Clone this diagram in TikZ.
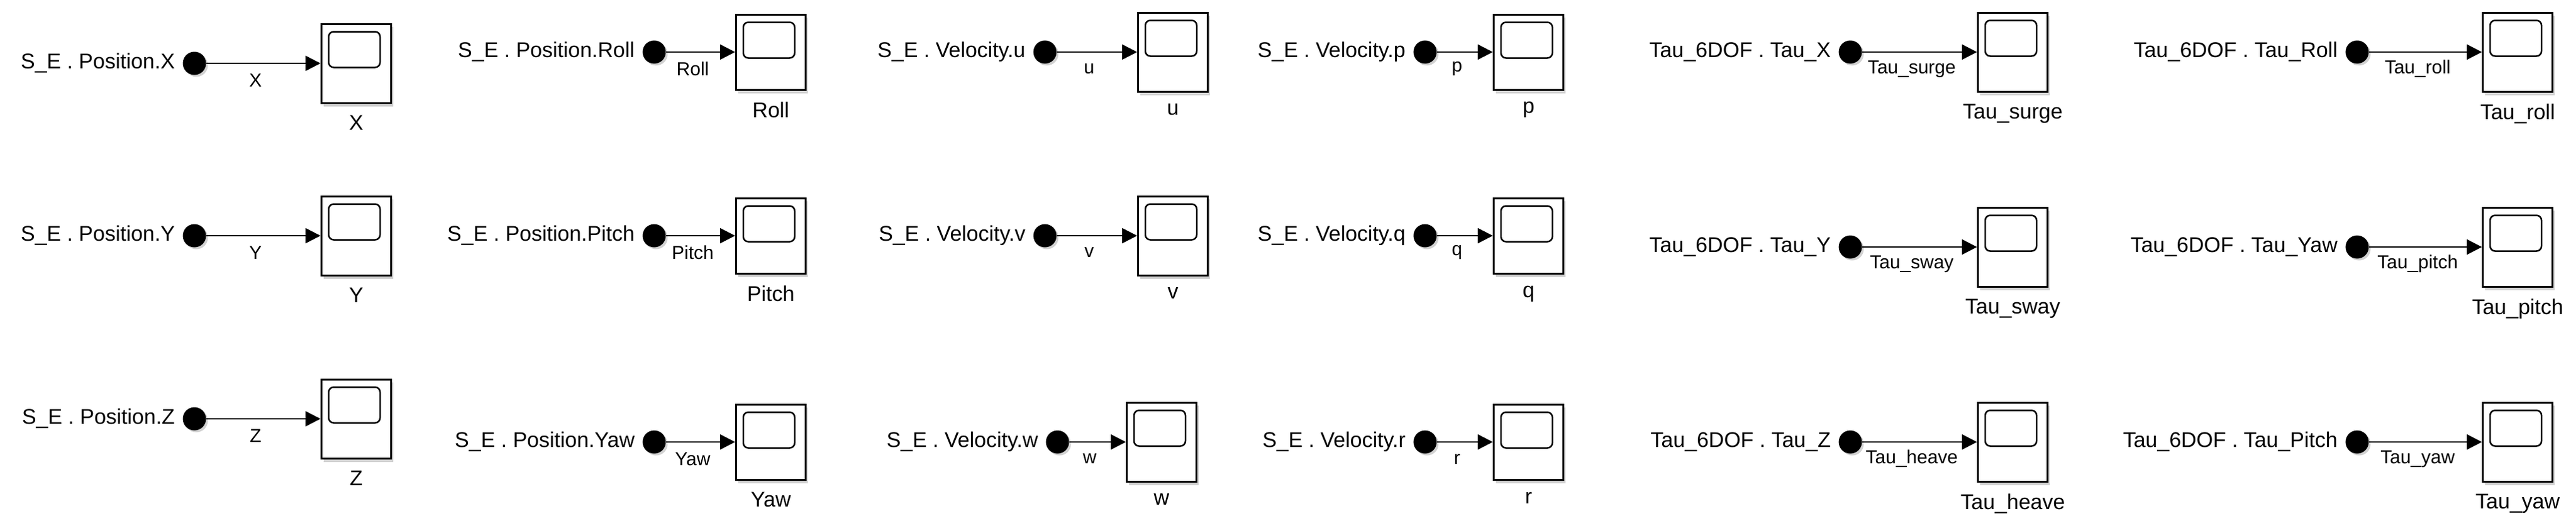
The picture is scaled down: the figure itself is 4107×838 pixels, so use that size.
\documentclass[tikz,border=0pt]{standalone}
\usepackage{fontspec}
\setmainfont{Liberation Sans}
\usetikzlibrary{calc,arrows.meta}
\tikzset{x=1pt,y=-1pt,
  dot/.style={circle,fill=black,minimum size=37pt,inner sep=0pt},
  scope/.style={draw,line width=3pt,fill=white,minimum width=111pt,inner sep=0pt,anchor=west},
  wire/.style={line width=2.5pt,-{Triangle[length=24pt,width=24pt]}},
  src/.style={anchor=east,font=\fontsize{34}{40}\selectfont,inner sep=0pt},
  lbl/.style={font=\fontsize{30}{36}\selectfont,inner sep=0pt},
  slbl/.style={anchor=north,font=\fontsize{34}{40}\selectfont,inner sep=0pt}}
% id, dotx, y, boxL, h, src, linelabel, scopelabel
\newcommand\blk[8]{%
  \fill[gray!35] (#2+3,#3+3) circle (18.5pt);
  \node[dot] (d#1) at (#2,#3) {};
  \fill[gray!35] (#4+5,#3-#5/2+5) rectangle (#4+116,#3+#5/2+6);
  \node[scope,minimum height=#5pt] (b#1) at (#4,#3) {};
  \draw[line width=2.5pt,rounded corners=8pt] ($(b#1.north west)+(13,14)$) rectangle ($(b#1.north west)+(95,71)$);
  \node[src] (s#1) at ($(d#1.center)+(-31,0)$) {#6};
  \draw[wire] (d#1) -- (b#1.west);
  \node[lbl] (l#1) at ($(d#1.center)!0.5!(b#1.west)+(-3,27)$) {#7};
  \node[slbl] (t#1) at ($(b#1.south)+(0,18)$) {#8};
}
\begin{document}
\begin{tikzpicture}
\useasboundingbox (0,0) rectangle (4107,838);
\blk{a1}{310}{101}{511}{126}{S\_E . Position.X}{X}{X}
\blk{a2}{310}{376}{511}{126}{S\_E . Position.Y}{Y}{Y}
\blk{a3}{310}{668}{511}{126}{S\_E . Position.Z}{Z}{Z}
\blk{b1}{1043}{83}{1172}{120}{S\_E . Position.Roll}{Roll}{Roll}
\blk{b2}{1043}{376}{1172}{120}{S\_E . Position.Pitch}{Pitch}{Pitch}
\blk{b3}{1043}{705}{1172}{120}{S\_E . Position.Yaw}{Yaw}{Yaw}
\blk{c1}{1666}{83}{1813}{126}{S\_E . Velocity.u}{u}{u}
\blk{c2}{1666}{376}{1813}{126}{S\_E . Velocity.v}{v}{v}
\blk{c3}{1686}{705}{1795}{126}{S\_E . Velocity.w}{w}{w}
\blk{d1}{2272}{83}{2380}{120}{S\_E . Velocity.p}{p}{p}
\blk{d2}{2272}{376}{2380}{120}{S\_E . Velocity.q}{q}{q}
\blk{d3}{2272}{705}{2380}{120}{S\_E . Velocity.r}{r}{r}
\blk{e1}{2950}{83}{3152}{126}{Tau\_6DOF . Tau\_X}{Tau\_surge}{Tau\_surge}
\blk{e2}{2950}{394}{3152}{126}{Tau\_6DOF . Tau\_Y}{Tau\_sway}{Tau\_sway}
\blk{e3}{2950}{705}{3152}{126}{Tau\_6DOF . Tau\_Z}{Tau\_heave}{Tau\_heave}
\blk{f1}{3758}{83}{3957}{126}{Tau\_6DOF . Tau\_Roll}{Tau\_roll}{Tau\_roll}
\blk{f2}{3758}{394}{3957}{126}{Tau\_6DOF . Tau\_Yaw}{Tau\_pitch}{Tau\_pitch}
\blk{f3}{3758}{705}{3957}{126}{Tau\_6DOF . Tau\_Pitch}{Tau\_yaw}{Tau\_yaw}
\end{tikzpicture}
\end{document}
